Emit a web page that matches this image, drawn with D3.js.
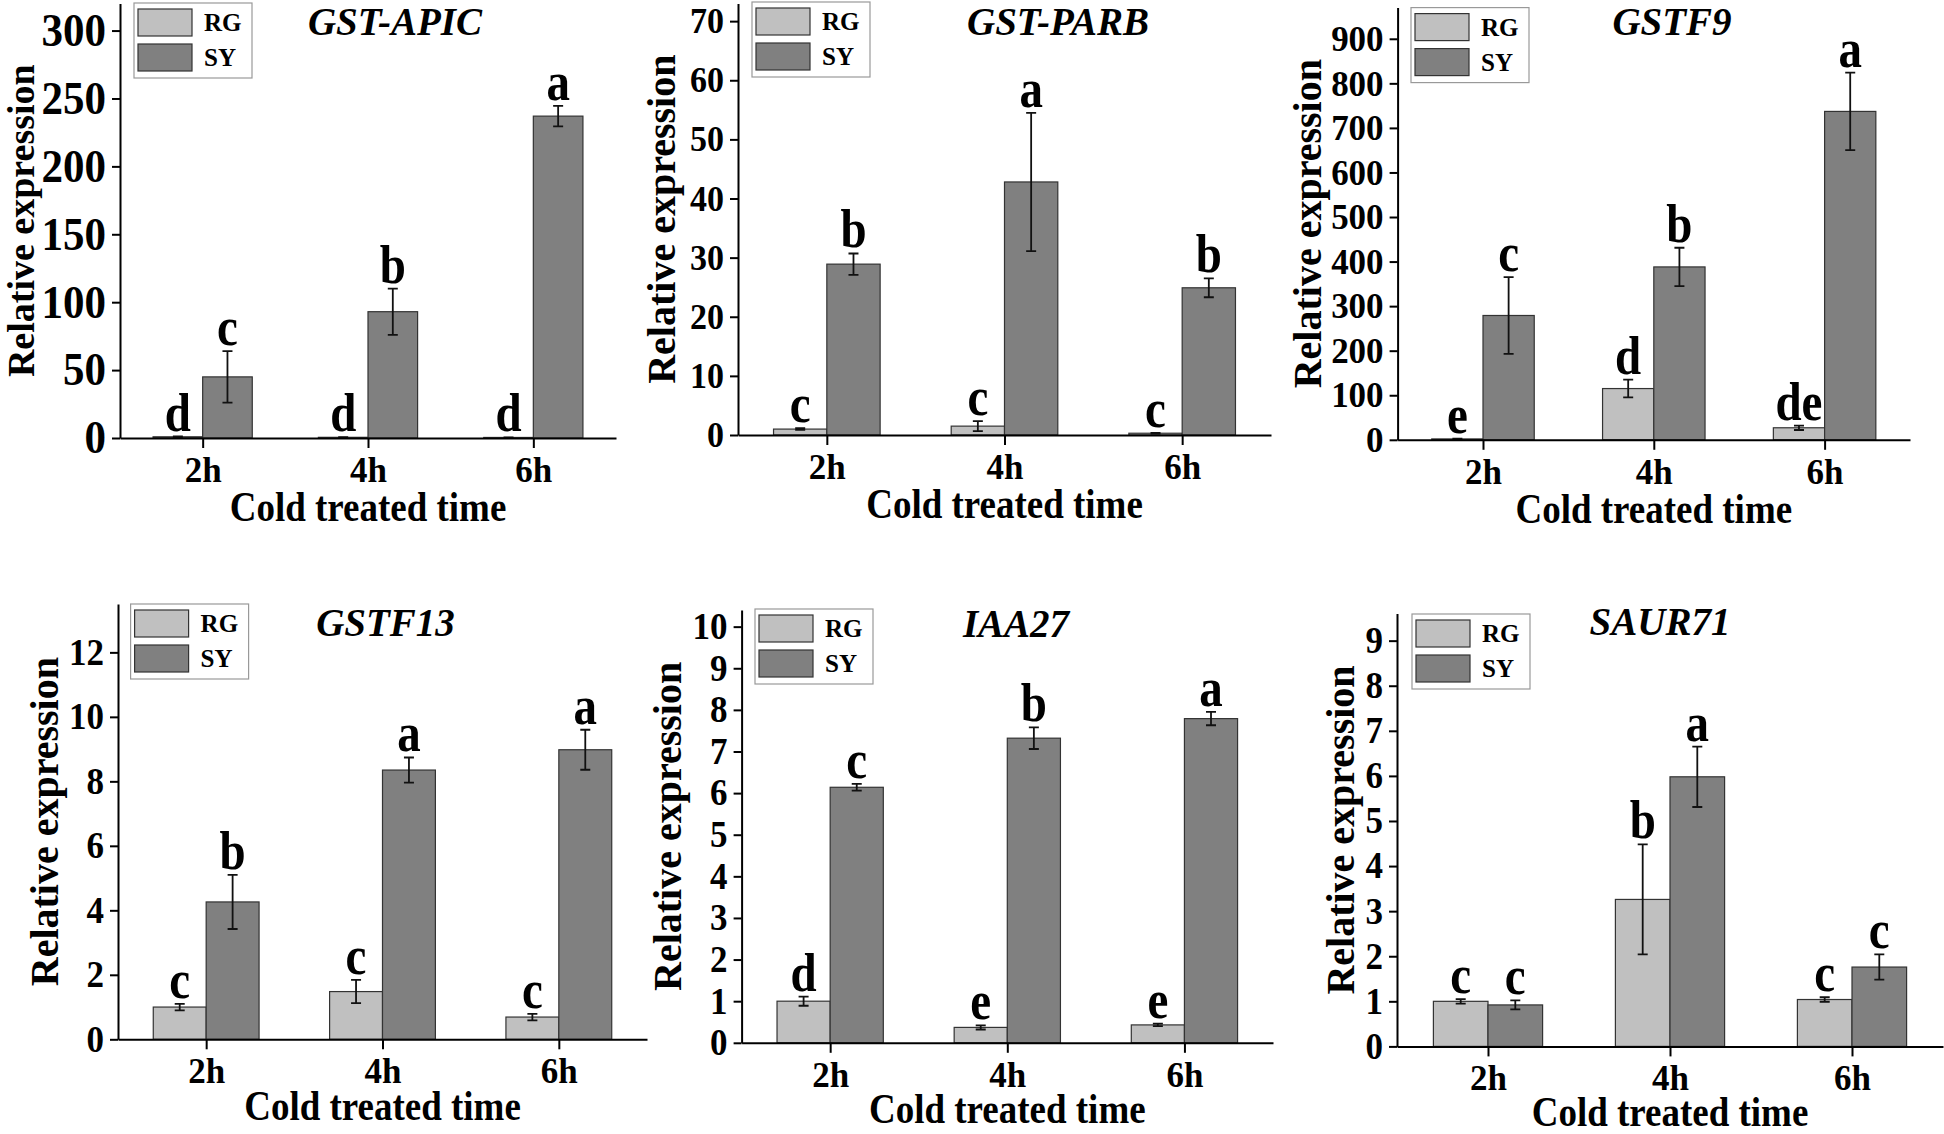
<!DOCTYPE html>
<html>
<head>
<meta charset="utf-8">
<script src="https://cdn.jsdelivr.net/npm/d3@7"></script>
<style>
  html, body { margin: 0; padding: 0; background: #ffffff; }
  svg { display: block; }
</style>
</head>
<body>
<script>
// ---------------- DATA ----------------
const times = ["2h", "4h", "6h"];
const seriesNames = ["RG", "SY"];
const geneTitles = ["GST-APIC", "GST-PARB", "GSTF9", "GSTF13", "IAA27", "SAUR71"];

// GST-APIC
const apicRG = [0.9, 0.5, 0.4];
const apicRGErr = [0.2, 0.1, 0.1];
const apicSY = [45, 93, 237];
const apicSYErr = [19, 17, 7.5];
const apicRGLetters = ["d", "d", "d"];
const apicSYLetters = ["c", "b", "a"];
const apicTicks = [0, 50, 100, 150, 200, 250, 300];

// GST-PARB
const parbRG = [1.0, 1.5, 0.3];
const parbRGErr = [0.15, 0.85, 0.05];
const parbSY = [28.9, 42.8, 24.9];
const parbSYErr = [1.8, 11.7, 1.6];
const parbRGLetters = ["c", "c", "c"];
const parbSYLetters = ["b", "a", "b"];
const parbTicks = [0, 10, 20, 30, 40, 50, 60, 70];

// GSTF9
const f9RG = [2, 115, 27];
const f9RGErr = [0.5, 20, 5];
const f9SY = [279, 388, 737];
const f9SYErr = [86, 43, 87];
const f9RGLetters = ["e", "d", "de"];
const f9SYLetters = ["c", "b", "a"];
const f9Ticks = [0, 100, 200, 300, 400, 500, 600, 700, 800, 900];

// GSTF13
const f13RG = [1.0, 1.48, 0.69];
const f13RGErr = [0.1, 0.36, 0.1];
const f13SY = [4.26, 8.35, 8.98];
const f13SYErr = [0.84, 0.39, 0.62];
const f13RGLetters = ["c", "c", "c"];
const f13SYLetters = ["b", "a", "a"];
const f13Ticks = [0, 2, 4, 6, 8, 10, 12];

// IAA27
const iaaRG = [1.0, 0.37, 0.43];
const iaaRGErr = [0.11, 0.05, 0.03];
const iaaSY = [6.14, 7.32, 7.79];
const iaaSYErr = [0.08, 0.26, 0.16];
const iaaRGLetters = ["d", "e", "e"];
const iaaSYLetters = ["c", "b", "a"];
const iaaTicks = [0, 1, 2, 3, 4, 5, 6, 7, 8, 9, 10];

// SAUR71
const saurRG = [1.0, 3.26, 1.04];
const saurRGErr = [0.05, 1.22, 0.05];
const saurSY = [0.92, 5.98, 1.76];
const saurSYErr = [0.1, 0.67, 0.28];
const saurRGLetters = ["c", "b", "c"];
const saurSYLetters = ["c", "a", "c"];
const saurTicks = [0, 1, 2, 3, 4, 5, 6, 7, 8, 9];

const yMaxes = [320, 73, 970, 13.5, 10.4, 9.6];

// ---------------- LAYOUT / STYLE ----------------
const FONT = "'Liberation Serif','Times New Roman',serif";
const COLORS = { RG: "#c0c0c0", SY: "#808080" };

const layouts = [
  { left: 120, right: 616, top: 3.4, bottom: 438, tickFont: 43, tickStretch: 1.08, ylabOff: 99, ylabFont: 38, xlabOff: 83, titleX: 395, titleY: 35, legX: 134, legY: 3 },
  { left: 738, right: 1271, top: 3.4, bottom: 435, tickFont: 34, tickStretch: 1.06, ylabOff: 77, ylabFont: 40, xlabOff: 83, titleX: 1058, titleY: 35, legX: 752, legY: 2 },
  { left: 1397.6, right: 1910, top: 7.6, bottom: 439.8, tickFont: 35, tickStretch: 1.04, ylabOff: 91, ylabFont: 40, xlabOff: 83, titleX: 1672, titleY: 35, legX: 1411, legY: 7.6 },
  { left: 118, right: 647, top: 604, bottom: 1039.3, tickFont: 35, tickStretch: 1.06, ylabOff: 74.5, ylabFont: 40, xlabOff: 81, titleX: 385.5, titleY: 636, legX: 130.6, legY: 604 },
  { left: 741.6, right: 1273, top: 610, bottom: 1042.8, tickFont: 35, tickStretch: 1.06, ylabOff: 75, ylabFont: 40, xlabOff: 80, titleX: 1016, titleY: 636.5, legX: 755, legY: 609 },
  { left: 1397, right: 1943, top: 613.6, bottom: 1046.4, tickFont: 35, tickStretch: 1.06, ylabOff: 57, ylabFont: 40, xlabOff: 80, titleX: 1660, titleY: 635, legX: 1412, legY: 614 }
];

const panelData = [
  { title: geneTitles[0], ticks: apicTicks, yMax: yMaxes[0], series: [
    { name: "RG", vals: apicRG, errs: apicRGErr, letters: apicRGLetters },
    { name: "SY", vals: apicSY, errs: apicSYErr, letters: apicSYLetters }] },
  { title: geneTitles[1], ticks: parbTicks, yMax: yMaxes[1], series: [
    { name: "RG", vals: parbRG, errs: parbRGErr, letters: parbRGLetters },
    { name: "SY", vals: parbSY, errs: parbSYErr, letters: parbSYLetters }] },
  { title: geneTitles[2], ticks: f9Ticks, yMax: yMaxes[2], series: [
    { name: "RG", vals: f9RG, errs: f9RGErr, letters: f9RGLetters },
    { name: "SY", vals: f9SY, errs: f9SYErr, letters: f9SYLetters }] },
  { title: geneTitles[3], ticks: f13Ticks, yMax: yMaxes[3], series: [
    { name: "RG", vals: f13RG, errs: f13RGErr, letters: f13RGLetters },
    { name: "SY", vals: f13SY, errs: f13SYErr, letters: f13SYLetters }] },
  { title: geneTitles[4], ticks: iaaTicks, yMax: yMaxes[4], series: [
    { name: "RG", vals: iaaRG, errs: iaaRGErr, letters: iaaRGLetters },
    { name: "SY", vals: iaaSY, errs: iaaSYErr, letters: iaaSYLetters }] },
  { title: geneTitles[5], ticks: saurTicks, yMax: yMaxes[5], series: [
    { name: "RG", vals: saurRG, errs: saurRGErr, letters: saurRGLetters },
    { name: "SY", vals: saurSY, errs: saurSYErr, letters: saurSYLetters }] }
];

// ---------------- DRAW ----------------
const svg = d3.select("body").append("svg")
  .attr("width", 1944).attr("height", 1134)
  .style("background", "#ffffff");

// text placed at (x, y) baseline, vertically stretched by sy
function stretchedText(parent, x, y, str, size, sy, opts = {}) {
  return parent.append("text")
    .attr("transform", `translate(${x},${y}) scale(1,${sy})`)
    .attr("text-anchor", opts.anchor || "middle")
    .style("font-family", FONT)
    .style("font-weight", "bold")
    .style("font-style", opts.italic ? "italic" : "normal")
    .style("font-size", size + "px")
    .attr("fill", "#000")
    .text(str);
}

panelData.forEach((pd, i) => {
  const L = layouts[i];
  const g = svg.append("g").attr("class", "panel");

  const x = d3.scalePoint().domain(times).range([L.left, L.right]).padding(0.5);
  const bw = x.step() * 0.3;
  const y = d3.scaleLinear().domain([0, pd.yMax]).range([L.bottom, L.top]);

  pd.series.forEach((s, si) => {
    const rows = times.map((t, k) => ({ t, v: s.vals[k], e: s.errs[k], l: s.letters[k] }));
    const off = si === 0 ? -bw : 0;
    const sg = g.append("g");

    sg.selectAll("rect").data(rows).join("rect")
      .attr("x", d => x(d.t) + off)
      .attr("y", d => y(d.v))
      .attr("width", bw)
      .attr("height", d => y(0) - y(d.v))
      .attr("fill", COLORS[s.name])
      .attr("stroke", "#333")
      .attr("stroke-width", 1.2);

    // error bars
    const cap = 5;
    sg.selectAll("path.err").data(rows).join("path")
      .attr("class", "err")
      .attr("d", d => {
        const cx = x(d.t) + off + bw / 2;
        const y1 = y(d.v + d.e), y2 = y(Math.max(0, d.v - d.e));
        return `M${cx},${y1}V${y2}M${cx - cap},${y1}H${cx + cap}M${cx - cap},${y2}H${cx + cap}`;
      })
      .attr("stroke", "#111")
      .attr("stroke-width", 1.8)
      .attr("fill", "none");

    // significance letters
    rows.forEach(d => {
      stretchedText(sg, x(d.t) + off + bw / 2, y(d.v + d.e) - 6, d.l, 47, 1.15);
    });
  });

  // y axis
  const ya = g.append("g").attr("transform", `translate(${L.left},0)`)
    .call(d3.axisLeft(y).tickValues(pd.ticks).tickSize(8).tickSizeOuter(0).tickPadding(6).tickFormat(d3.format("d")));
  ya.select(".domain").attr("stroke", "#000").attr("stroke-width", 2);
  ya.selectAll(".tick line").attr("stroke", "#000").attr("stroke-width", 2);
  ya.selectAll(".tick text")
    .style("font-family", FONT).style("font-weight", "bold")
    .style("font-size", L.tickFont + "px").attr("fill", "#000")
    .attr("transform", `scale(1,${L.tickStretch})`);

  // x axis
  const xa = g.append("g").attr("transform", `translate(0,${L.bottom})`)
    .call(d3.axisBottom(x).tickSize(10).tickSizeOuter(0).tickPadding(9));
  xa.select(".domain").attr("stroke", "#000").attr("stroke-width", 2);
  xa.selectAll(".tick line").attr("stroke", "#000").attr("stroke-width", 2);
  xa.selectAll(".tick text")
    .style("font-family", FONT).style("font-weight", "bold")
    .style("font-size", "35px").attr("fill", "#000");

  // axis titles
  stretchedText(g, (L.left + L.right) / 2, L.bottom + L.xlabOff, "Cold treated time", 37, 1.15);

  g.append("text")
    .attr("transform", `translate(${L.left - L.ylabOff},${(L.top + L.bottom) / 2}) rotate(-90)`)
    .attr("text-anchor", "middle")
    .attr("dy", "0.35em")
    .style("font-family", FONT).style("font-weight", "bold").style("font-size", L.ylabFont + "px")
    .text("Relative expression");

  // gene title
  g.append("text")
    .attr("x", L.titleX).attr("y", L.titleY)
    .attr("text-anchor", "middle")
    .style("font-family", FONT).style("font-weight", "bold").style("font-style", "italic")
    .style("font-size", "39px")
    .text(pd.title);

  // legend
  const lg = g.append("g").attr("transform", `translate(${L.legX},${L.legY})`);
  lg.append("rect").attr("x", 0).attr("y", 0).attr("width", 118).attr("height", 75)
    .attr("fill", "#fff").attr("stroke", "#999").attr("stroke-width", 1.2);
  seriesNames.forEach((n, k) => {
    const yy = k === 0 ? 6 : 41;
    lg.append("rect").attr("x", 4).attr("y", yy).attr("width", 54).attr("height", 27)
      .attr("fill", COLORS[n]).attr("stroke", "#333").attr("stroke-width", 1.2);
    lg.append("text").attr("x", 70).attr("y", yy + 22)
      .style("font-family", FONT).style("font-weight", "bold").style("font-size", "25px")
      .text(n);
  });
});
</script>
</body>
</html>
